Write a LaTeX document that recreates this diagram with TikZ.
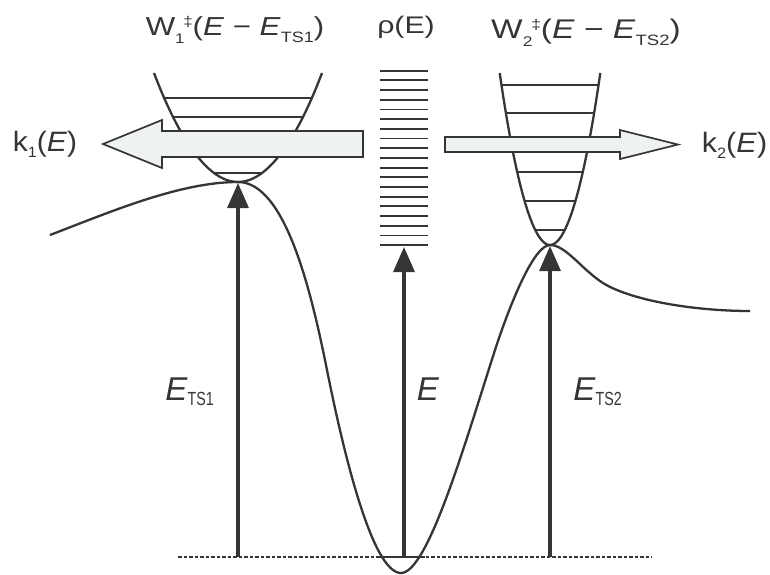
\documentclass[tikz,border=0pt]{standalone}
\usepackage{fontspec}
\setmainfont{Liberation Sans}
\usetikzlibrary{arrows.meta}
\definecolor{ink}{HTML}{353535}
\definecolor{arrowfill}{HTML}{EEF2F2}
\newcommand{\shifttxt}[3]{\raisebox{#1}{\fontsize{#2}{#2}\selectfont #3}}
\begin{document}
\begin{tikzpicture}[x=1pt,y=-1pt,
  curve/.style={draw=ink,line width=2.3pt},
  level/.style={draw=ink,line width=1.8pt},
  vert/.style={draw=ink,line width=3.2pt,-{Triangle[length=25pt,width=21pt]}},
  bigarrow/.style={draw=ink,line width=1.7pt,fill=arrowfill,line join=miter},
  lab/.style={text=ink,inner sep=0pt,anchor=base}
]
\useasboundingbox (0,0) rectangle (770,574);

% baseline
\draw[ink,line width=1.1pt,dash pattern=on 3.5pt off 2pt] (178,557) -- (652,557);
\draw[ink,line width=1.8pt] (376,557) -- (425,557);

% potential energy curve
\draw[curve] (50,235) .. controls (110,212) and (180,182) .. (238,182)
  .. controls (285,182) and (311,290) .. (327,370)
  .. controls (343,450) and (372,573) .. (401,573)
  .. controls (428,573) and (466,440) .. (495,350)
  .. controls (508,310) and (533,245) .. (550,245)
  .. controls (565,245) and (580,267) .. (600,281)
  .. controls (625,299) and (690,311) .. (750,311);

% TS1 funnel
\draw[curve] (154,73) parabola bend (238,182) (322,73);
\foreach \yy in {98,117,136,155,173}{
  \pgfmathsetmacro\hw{sqrt((182-\yy)/0.01545)}
  \draw[level] ({238-\hw},\yy) -- ({238+\hw},\yy);
}

% TS2 funnel
\draw[curve] (499.7,73) parabola bend (550,245) (600.3,73);
\foreach \yy in {85,113,142,172,201,230}{
  \pgfmathsetmacro\hw{sqrt((245-\yy)/0.068)}
  \draw[level] ({550-\hw},\yy) -- ({550+\hw},\yy);
}

% density of states
\foreach \i in {0,...,18}{
  \draw[level] (380,{70.7+9.69*\i}) -- (428,{70.7+9.69*\i});
}

% big flux arrows
\draw[bigarrow] (363,131) -- (162,131) -- (162,120) -- (103,144) -- (162,168) -- (162,157) -- (363,157) -- cycle;
\draw[bigarrow] (445,137) -- (620,137) -- (620,130) -- (678,144.5) -- (620,159) -- (620,152) -- (445,152) -- cycle;

% vertical energy arrows
\coordinate (b1) at (238,557);
\coordinate (ts1) at (238,183);
\coordinate (b0) at (404,557);
\coordinate (rho) at (404,247);
\coordinate (b2) at (550,557);
\coordinate (ts2) at (550,246);
\draw[vert] (b1) -- (ts1);
\draw[vert] (b0) -- (rho);
\draw[vert] (b2) -- (ts2);

% labels
\node[lab,font=\fontsize{26}{30}\selectfont] (w1) at (235,35)
  {\scalebox{1.2}[1]{W\shifttxt{-8pt}{14}{1}\kern-1pt\shifttxt{9pt}{14}{‡}(\textit{E} − \textit{E}\shifttxt{-7pt}{15}{TS1})}};
\node[lab,font=\fontsize{24}{28}\selectfont] (rhoE) at (406,33)
  {\scalebox{1.26}[1]{ρ(E)}};
\node[lab,font=\fontsize{27}{31}\selectfont] (w2) at (586,38)
  {\scalebox{1.24}[1]{W\shifttxt{-8pt}{14}{2}\kern-1pt\shifttxt{9pt}{14}{‡}(\textit{E} − \textit{E}\shifttxt{-7pt}{15}{TS2})}};
\node[lab,font=\fontsize{28}{32}\selectfont] (k1) at (45,151)
  {\scalebox{1.07}[1]{k\shifttxt{-6pt}{15}{1}(\textit{E})}};
\node[lab,font=\fontsize{28}{32}\selectfont] (k2) at (734.5,152)
  {\scalebox{1.09}[1]{k\shifttxt{-6pt}{15}{2}(\textit{E})}};
\node[lab,font=\fontsize{33}{36}\selectfont] (ets1) at (189.5,400)
  {\textit{E}\shifttxt{-5pt}{19}{\scalebox{0.75}[1]{TS1}}};
\node[lab,font=\fontsize{33}{36}\selectfont] (ee) at (428,400)
  {\textit{E}};
\node[lab,font=\fontsize{33}{36}\selectfont] (ets2) at (597.5,400)
  {\textit{E}\shifttxt{-5pt}{19}{\scalebox{0.75}[1]{TS2}}};
\end{tikzpicture}
\end{document}
